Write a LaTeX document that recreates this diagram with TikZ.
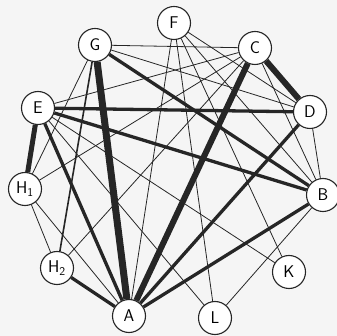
\documentclass[tikz,border=0pt]{standalone}
\usepackage{tikz}
\begin{document}
\begin{tikzpicture}[
  x=1pt, y=-1pt,
  vertex/.style={circle,draw=black!85,line width=1.1pt,fill=white,minimum size=33pt,inner sep=0pt,font=\fontsize{17}{17}\sffamily},
  faint/.style={draw=black!85,line width=0.8pt},
  medium/.style={draw=black!85,line width=1.6pt},
  heavy/.style={draw=black!85,line width=3.3pt},
  massive/.style={draw=black!85,line width=6pt}
]
\useasboundingbox[fill=black!4] (0,0) rectangle (337,336);

\foreach \name/\txt/\px/\py in {
  A/A/129/316, B/B/323/195, C/C/255/48, D/D/310/112,
  E/E/38/108, F/F/174/23, G/G/95/45, H1/{H\textsubscript{1}}/25/189,
  H2/{H\textsubscript{2}}/57/268, K/K/289/272, L/L/215/318} {
  \node[vertex] (\name) at (\px,\py) {\txt};
}

\draw[massive,line width=7pt] (G) -- (A);
\foreach \u/\v in {C/A, C/D}
  \draw[massive] (\u) -- (\v);
\draw[massive,line width=5pt] (E) -- (H1);
\foreach \u/\v in {E/A, E/D, E/B, G/B, A/D, A/B, A/H2}
  \draw[heavy] (\u) -- (\v);
\draw[medium] (G) -- (H2);
\foreach \u/\v in {
  G/C, G/H1, G/D, E/C, E/K, E/L, H1/C, H1/A, H1/H2,
  H2/C, C/B, D/B, F/A, F/L, F/K, F/B, F/D, L/B}
  \draw[faint] (\u) -- (\v);
\end{tikzpicture}
\end{document}
